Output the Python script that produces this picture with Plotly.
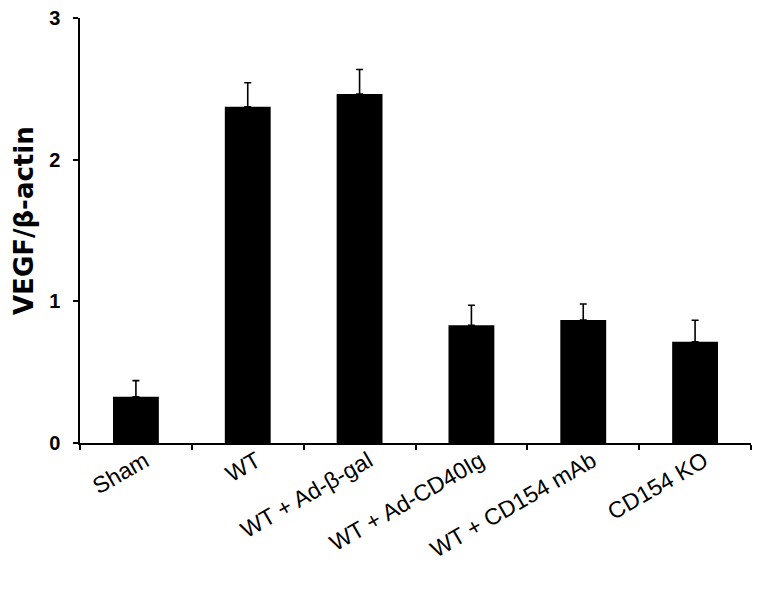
import plotly.graph_objects as go

categories = ["Sham", "WT", "WT + Ad-β-gal", "WT + Ad-CD40Ig", "WT + CD154 mAb", "CD154 KO"]
values = [0.327, 2.373, 2.463, 0.831, 0.868, 0.715]
errors = [0.113, 0.17, 0.174, 0.141, 0.113, 0.151]
y_ticks = [0, 1, 2, 3]
y_title = "VEGF/β-actin"

fig = go.Figure()
fig.add_trace(go.Bar(
    x=categories, y=values, width=0.41,
    marker=dict(color="black", line=dict(width=0)),
    error_y=dict(type="data", array=errors, arrayminus=[0]*len(errors),
                 symmetric=False, color="black", thickness=1.6, width=3.5),
))

fig.update_layout(
    width=764, height=594, autosize=False,
    margin=dict(l=72, r=21, t=10, b=159),
    plot_bgcolor="white", paper_bgcolor="white",
    showlegend=False,
    font=dict(family="Liberation Sans, Arial, sans-serif", color="black"),
)
fig.update_xaxes(
    type="category", showline=True, linecolor="black", linewidth=1.5,
    ticks="outside", tickson="boundaries", ticklen=5, tickcolor="black", tickwidth=1.5,
    tickangle=-30, tickfont=dict(size=23, color="black"),
    ticklabelstandoff=-6, ticklabelshift=9,
    showgrid=False, zeroline=False, automargin=False,
)
fig.update_yaxes(
    range=[0, 3], tickvals=y_ticks, ticktext=[f"<b>{t}</b>" for t in y_ticks],
    showline=True, linecolor="black", linewidth=1.5,
    ticks="outside", ticklen=5, tickcolor="black", tickwidth=1.5,
    tickfont=dict(size=20, color="black", family="Liberation Sans, Arial, sans-serif"),
    ticklabelstandoff=9, ticklabeloverflow="allow",
    showgrid=False, zeroline=False, automargin=False,
)
fig.add_annotation(
    text=f"<b>{y_title}</b>", xref="paper", yref="paper",
    x=(16 - 72) / 671, y=0.5 + (229.5 - 220) / 425, textangle=-90,
    showarrow=False, xanchor="center", yanchor="middle",
    font=dict(size=26, color="black", family="DejaVu Sans"),
)
fig.write_html("out.html")
